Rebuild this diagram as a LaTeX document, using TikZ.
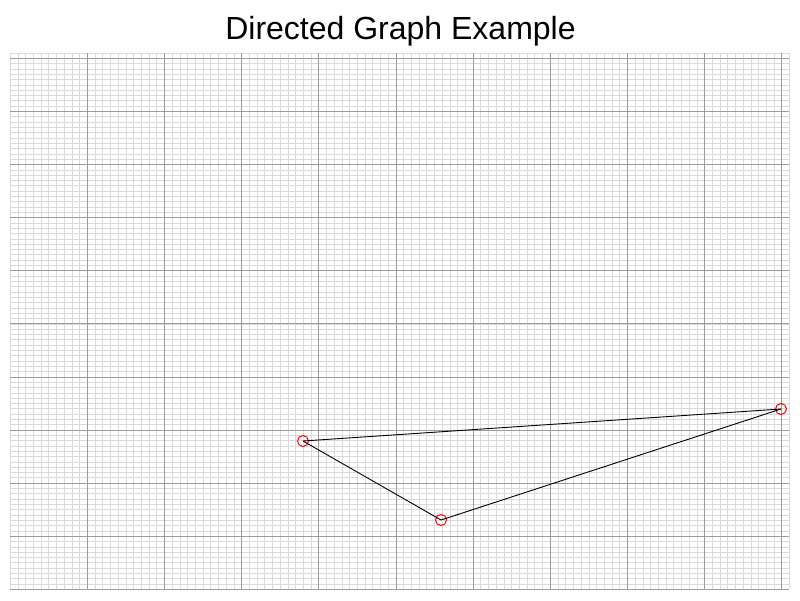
\documentclass[tikz,border=0pt]{standalone}
\usepackage{fontspec}
\setmainfont{Liberation Sans}
\begin{document}
\begin{tikzpicture}[x=1pt,y=-1pt,
  minorline/.style={draw={rgb,255:red,218;green,218;blue,218},line width=0.6pt},
  majorline/.style={draw={rgb,255:red,155;green,155;blue,155},line width=0.8pt},
  vertex/.style={circle,draw=red,line width=1pt,minimum size=11pt,inner sep=0pt},
  edge/.style={draw=black,line width=0.9pt}]
\useasboundingbox[fill=white] (0,0) rectangle (800,600);
\def\ox{10.1}\def\oy{589.3}\def\sx{7.716}\def\sy{5.31}
% minor grid
\foreach \i in {0,...,101}{
  \draw[minorline] ({\ox+\i*\sx},{\oy}) -- ({\ox+\i*\sx},{\oy-101*\sy});
  \draw[minorline] ({\ox},{\oy-\i*\sy}) -- ({\ox+101*\sx},{\oy-\i*\sy});
}
% major grid
\foreach \k in {1,...,10}{
  \draw[majorline] ({\ox+\k*\sx*10},{\oy}) -- ({\ox+\k*\sx*10},{\oy-101*\sy});
}
\foreach \k in {0,...,10}{
  \draw[majorline] ({\ox},{\oy-\k*\sy*10}) -- ({\ox+101*\sx},{\oy-\k*\sy*10});
}
\node[anchor=base,inner sep=0pt,font=\fontsize{32}{38}\selectfont] (title) at (400.5,39.5) {Directed Graph Example};
\coordinate (a) at (303,441);
\coordinate (b) at (441,520);
\coordinate (c) at (781,409);
\node[vertex] (na) at (a) {};
\node[vertex] (nb) at (b) {};
\node[vertex] (nc) at (c) {};
\draw[edge] (a) -- (c);
\draw[edge] (a) -- (b);
\draw[edge] (b) -- (c);
\end{tikzpicture}
\end{document}
